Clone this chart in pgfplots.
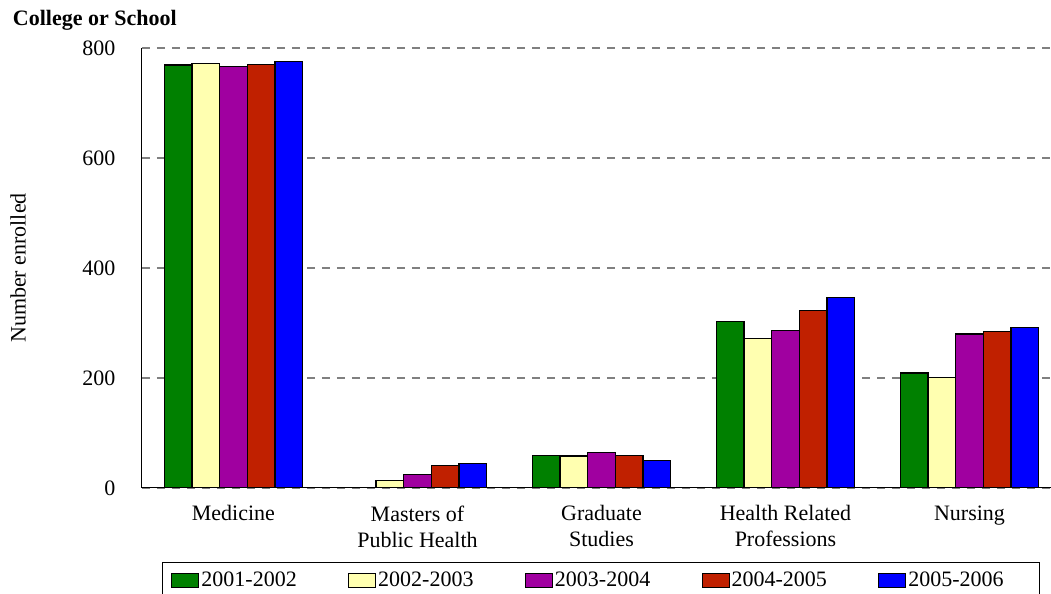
\documentclass[border=0pt]{standalone}
\usepackage{fontspec}
\setmainfont{Liberation Serif}
\usepackage{pgfplots}
\pgfplotsset{compat=1.18}

\definecolor{cgreen}{RGB}{0,128,0}
\definecolor{cyellow}{RGB}{255,255,176}
\definecolor{cpurple}{RGB}{160,0,160}
\definecolor{cred}{RGB}{192,32,0}
\definecolor{cblue}{RGB}{0,0,255}
\newcommand{\lbl}{\fontsize{22}{26}\selectfont}

\begin{document}
\begin{tikzpicture}
\begin{axis}[
    width=909pt, height=440pt, scale only axis,
    ybar=0pt, bar width=27.7pt,
    xmin=-0.497, xmax=4.443,
    ymin=0, ymax=800,
    xtick={0,1,2,3,4},
    xticklabels={Medicine, Masters of\\Public Health, Graduate\\Studies, Health Related\\Professions, Nursing},
    ytick={0,200,400,600,800},
    major tick length=0pt,
    axis x line*=bottom, axis y line*=left,
    axis line style={black, line width=1pt},
    ymajorgrids=true,
    grid style={gray, line width=1.2pt, dash pattern=on 8pt off 7pt},
    tick label style={font=\lbl},
    /pgf/number format/assume math mode=true,
    xticklabel style={align=center, yshift=-14pt},
    yticklabel style={xshift=-23pt},
    ylabel={Number enrolled},
    ylabel style={font=\lbl, at={(axis description cs:-0.1364,0.5)}, anchor=center},
    legend columns=5,
    legend style={
        at={(axis description cs:0.022,-0.16818)}, anchor=north west,
        draw=black, line width=1pt, inner xsep=9pt, inner ysep=7.5pt,
        font=\lbl,
        nodes={inner xsep=2pt, inner ysep=2pt},
        /tikz/every even column/.append style={column sep=49.4pt},
    },
    legend image code/.code={\draw[#1, line width=1pt] (0pt,-7pt) rectangle (27pt,7pt);},
]
\addplot[fill=cgreen, draw=black, line width=1.2pt]
    coordinates {(0,769) (1,0) (2,59) (3,302) (4,209)};
\addlegendentry{2001-2002}
\addplot[fill=cyellow, draw=black, line width=1.2pt]
    coordinates {(0,772) (1,13) (2,58) (3,272) (4,201)};
\addlegendentry{2002-2003}
\addplot[fill=cpurple, draw=black, line width=1.2pt]
    coordinates {(0,767) (1,24) (2,65) (3,287) (4,280)};
\addlegendentry{2003-2004}
\addplot[fill=cred, draw=black, line width=1.2pt]
    coordinates {(0,770) (1,41) (2,59) (3,323) (4,284)};
\addlegendentry{2004-2005}
\addplot[fill=cblue, draw=black, line width=1.2pt]
    coordinates {(0,775) (1,44) (2,50) (3,347) (4,292)};
\addlegendentry[text width=120pt, align=left]{2005-2006}

\coordinate (bl) at (rel axis cs:0,0);
\coordinate (tr) at (rel axis cs:1,1);
\end{axis}

\path (bl |- tr) coordinate (tl);
\node[anchor=base west, inner sep=0pt, font=\lbl\bfseries]
    at ([shift={(-129.3pt,22pt)}]tl) {College or School};

\pgfresetboundingbox
\path ([shift={(-142pt,-106pt)}]bl) rectangle ([shift={(0pt,48pt)}]tr);
\end{tikzpicture}
\end{document}
